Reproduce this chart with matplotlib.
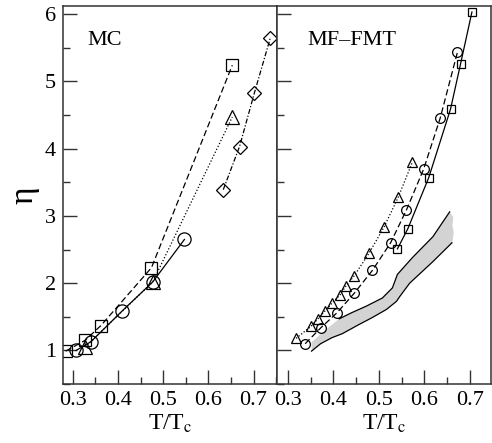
import numpy as np
from matplotlib import pyplot as plt
from matplotlib.ticker import MultipleLocator

plt.rcParams['font.family'] = ['Liberation Serif', 'DejaVu Serif']
plt.rcParams['mathtext.fontset'] = 'stix'

# --- MC panel ---
mc_sq_t = [0.284, 0.327, 0.362, 0.474, 0.653]
mc_sq_eta = [0.99, 1.15, 1.37, 2.23, 5.24]
mc_ci_t = [0.307, 0.340, 0.408, 0.477, 0.547]
mc_ci_eta = [1.00, 1.13, 1.58, 2.02, 2.65]
mc_tr_t = [0.327, 0.477, 0.653]
mc_tr_eta = [1.05, 2.02, 4.47]
mc_di_t = [0.633, 0.669, 0.702, 0.737]
mc_di_eta = [3.39, 4.03, 4.83, 5.64]

# --- MF-FMT panel ---
mf_sq_t = [0.541, 0.564, 0.610, 0.658, 0.680, 0.705]
mf_sq_eta = [2.51, 2.81, 3.57, 4.59, 5.26, 6.03]
mf_ci_t = [0.338, 0.373, 0.408, 0.446, 0.486, 0.526, 0.561, 0.599, 0.635, 0.673]
mf_ci_eta = [1.10, 1.34, 1.56, 1.85, 2.19, 2.60, 3.09, 3.70, 4.45, 5.43]
mf_tr_t = [0.318, 0.351, 0.366, 0.382, 0.398, 0.414, 0.428, 0.446,
           0.479, 0.512, 0.543, 0.574]
mf_tr_eta = [1.18, 1.36, 1.47, 1.59, 1.71, 1.82, 1.96, 2.11,
             2.45, 2.84, 3.28, 3.80]

# shaded band (lower and upper edges)
band_lo_t = [0.352, 0.372, 0.397, 0.420, 0.455, 0.486, 0.517, 0.539,
             0.546, 0.568, 0.619, 0.661]
band_lo_eta = [0.99, 1.10, 1.19, 1.25, 1.38, 1.49, 1.61, 1.73,
               1.80, 2.00, 2.32, 2.60]
band_hi_t = [0.352, 0.380, 0.413, 0.440, 0.473, 0.508, 0.530, 0.541,
             0.574, 0.619, 0.656, 0.664, 0.662, 0.665, 0.663]
band_hi_eta = [1.12, 1.29, 1.47, 1.56, 1.66, 1.78, 1.93, 2.13,
               2.38, 2.69, 3.06, 2.98, 2.86, 2.76, 2.65]

fig, (ax1, ax2) = plt.subplots(1, 2, sharey=True, figsize=(4.92, 4.43), dpi=100)
plt.subplots_adjust(left=0.128, right=0.998, bottom=0.133, top=0.9865, wspace=0)

lw = 0.9
ax1.plot(mc_sq_t, mc_sq_eta, ls=(0, (5, 2.5)), lw=lw, color='k', marker='s',
         ms=8, mfc='none', mec='k', mew=0.9)
ax1.plot(mc_ci_t, mc_ci_eta, ls='-', lw=lw, color='k', marker='o',
         ms=9.5, mfc='none', mec='k', mew=0.9)
ax1.plot(mc_tr_t, mc_tr_eta, ls=(0, (1, 1.6)), lw=lw, color='k', marker='^',
         ms=9.5, mfc='none', mec='k', mew=0.9)
ax1.plot(mc_di_t, mc_di_eta, ls=(0, (4, 1.5, 1, 1.5)), lw=lw, color='k', marker='D',
         ms=7, mfc='none', mec='k', mew=0.9)
ax1.text(0.116, 0.91, 'MC', transform=ax1.transAxes, fontsize=16, va='center')

ax2.fill(band_lo_t + band_hi_t[::-1], band_lo_eta + band_hi_eta[::-1],
         color='#d3d3d3', lw=0)
ax2.plot(band_lo_t, band_lo_eta, color='k', lw=lw)
ax2.plot(band_hi_t[2:11], band_hi_eta[2:11], color='k', lw=lw)
ax2.plot(mf_sq_t, mf_sq_eta, ls='-', lw=lw, color='k', marker='s',
         ms=6, mfc='none', mec='k', mew=0.9)
ax2.plot(mf_ci_t, mf_ci_eta, ls=(0, (5, 2.5)), lw=lw, color='k', marker='o',
         ms=7, mfc='none', mec='k', mew=0.9)
ax2.plot(mf_tr_t, mf_tr_eta, ls=(0, (1, 1.6)), lw=lw, color='k', marker='^',
         ms=7.5, mfc='none', mec='k', mew=0.9)
ax2.text(0.14, 0.91, 'MF\u2013FMT', transform=ax2.transAxes, fontsize=16, va='center')

ax1.set_xlim(0.278, 0.752)
ax2.set_xlim(0.276, 0.747)
ax1.set_ylim(0.5, 6.12)

for ax in (ax1, ax2):
    ax.xaxis.set_major_locator(MultipleLocator(0.1))
    ax.xaxis.set_minor_locator(MultipleLocator(0.05))
    ax.yaxis.set_major_locator(MultipleLocator(1))
    ax.yaxis.set_minor_locator(MultipleLocator(0.5))
    ax.tick_params(which='both', direction='in', top=False, right=False,
                   width=1.0, labelsize=16, color='#333333')
    ax.tick_params(which='major', length=10, pad=5)
    ax.tick_params(which='minor', length=5)
    for s in ax.spines.values():
        s.set_linewidth(1.1)
        s.set_color('#333333')
    ax.set_xlabel(r'T/T$_{\rm c}$', fontsize=17, labelpad=2)
    ax.xaxis.set_major_formatter(plt.FuncFormatter(lambda v, p: '%.1f' % v))

ax1.set_ylabel('\u03b7', fontsize=24, labelpad=4)
ax2.tick_params(labelleft=False)

plt.savefig('out.png', dpi=100)
